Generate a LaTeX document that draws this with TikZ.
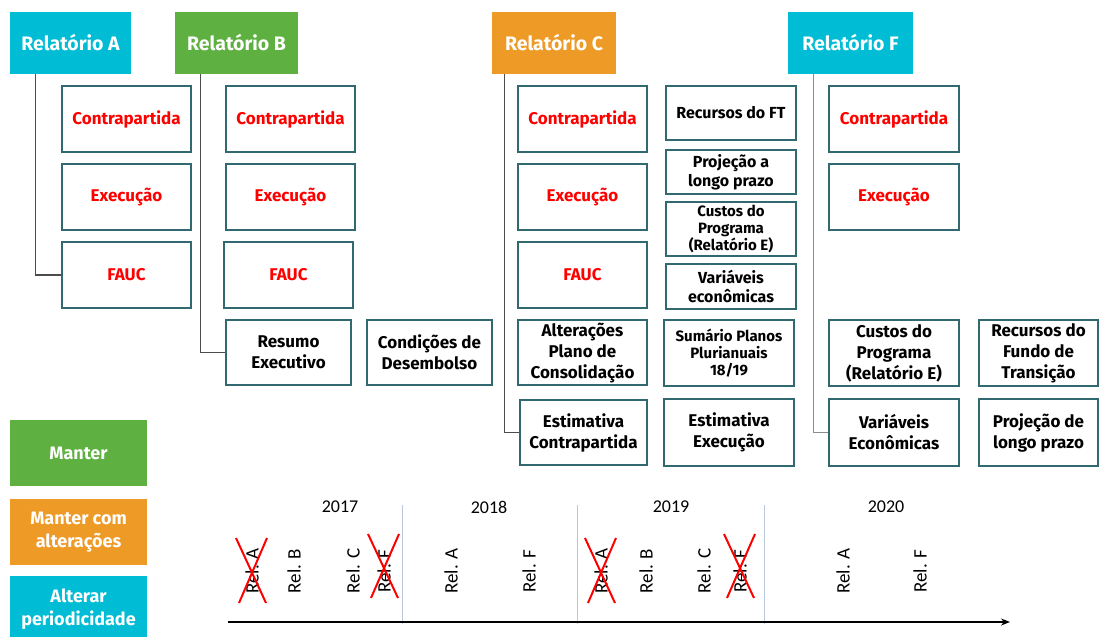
\documentclass[tikz,border=0pt]{standalone}
\usepackage{fontspec}
\setmainfont{Fira Sans}
\newfontfamily\calfont{Carlito}
\usetikzlibrary{arrows.meta,calc}
\definecolor{cyanh}{RGB}{0,188,212}
\definecolor{greenh}{RGB}{94,176,64}
\definecolor{orangeh}{RGB}{238,154,38}
\definecolor{boxline}{RGB}{50,105,112}
\definecolor{sepc}{RGB}{185,200,220}
\newcommand\bx[7]{%
  \pgfmathsetmacro\bxw{#5-#3}%
  \pgfmathsetmacro\bxh{#6-#4}%
  \node[#1, minimum width=\bxw pt, minimum height=\bxh pt] (#2) at ({(#3+#5)/2},{(#4+#6)/2}) {#7};%
}
\tikzset{
  hdr/.style={inner sep=0pt, text=white, fill=#1, font=\fontsize{19.5}{22}\selectfont\bfseries},
  rbox/.style={draw=boxline, line width=1.6pt, inner sep=0pt, text=red, font=\fontsize{17}{21}\selectfont\bfseries},
  kbox/.style={draw=boxline, line width=1.6pt, inner sep=0pt, align=center, font=\fontsize{17}{21}\selectfont\bfseries},
  sbox/.style={kbox, font=\fontsize{16}{19}\selectfont\bfseries},
  tbox/.style={kbox, font=\fontsize{15}{17}\selectfont\bfseries},
  leg/.style={inner sep=0pt, text=white, fill=#1, align=center, font=\fontsize{18}{23}\selectfont\bfseries},
  conn/.style={draw=black!70, line width=1.2pt},
  yr/.style={font=\calfont\fontsize{18}{20}\selectfont, inner sep=0pt},
  rel/.style={font=\calfont\fontsize{19}{20}\selectfont, rotate=90, inner sep=0pt},
  xmark/.style={draw=red, line width=2pt},
  sepl/.style={draw=sepc, line width=0.8pt},
}
\begin{document}
\begin{tikzpicture}[x=1pt,y=-1pt]
\useasboundingbox (0,0) rectangle (1101,637);
% headers
\bx{hdr=cyanh}{rA}{10}{12}{131}{74}{Relatório A}
\bx{hdr=greenh}{rB}{175}{12}{298}{74}{Relatório B}
\bx{hdr=orangeh}{rC}{492}{12}{616}{74}{Relatório C}
\bx{hdr=cyanh}{rF}{788}{12}{913}{74}{Relatório F}
% A
\bx{rbox}{aC}{62}{86}{191}{152}{Contrapartida}
\bx{rbox}{aE}{62}{164}{191}{230}{Execução}
\bx{rbox}{aF}{62}{242}{191}{308}{FAUC}
% B
\bx{rbox}{bC}{226}{86}{355}{152}{Contrapartida}
\bx{rbox}{bE}{226}{164}{355}{230}{Execução}
\bx{rbox}{bF}{224}{242}{353}{308}{FAUC}
\bx{kbox}{bRes}{226}{320}{351}{385}{Resumo\\Executivo}
\bx{kbox}{bCond}{367}{320}{492}{385}{Condições de\\Desembolso}
% C
\bx{rbox}{cC}{518}{86}{647}{152}{Contrapartida}
\bx{rbox}{cE}{518}{164}{647}{230}{Execução}
\bx{rbox}{cF}{518}{242}{647}{308}{FAUC}
\bx{kbox}{cAlt}{518}{320}{647}{385}{Alterações\\Plano de\\Consolidação}
\bx{kbox}{cEst}{520}{400}{647}{465}{Estimativa\\Contrapartida}
\bx{sbox}{cRec}{666}{86}{796}{140}{Recursos do FT}
\bx{sbox}{cProj}{666}{150}{796}{194}{Projeção a\\longo prazo}
\bx{tbox}{cCus}{666}{202}{796}{256}{Custos do\\Programa\\(Relatório E)}
\bx{sbox}{cVar}{666}{264}{796}{309}{Variáveis\\econômicas}
\bx{tbox}{cSum}{664}{320}{794}{386}{Sumário Planos\\Plurianuais\\18/19}
\bx{kbox}{cEstE}{664}{399}{794}{466}{Estimativa\\Execução}
% F
\bx{rbox}{fC}{829}{86}{959}{152}{Contrapartida}
\bx{rbox}{fE}{829}{164}{959}{230}{Execução}
\bx{kbox}{fCus}{829}{320}{959}{386}{Custos do\\Programa\\(Relatório E)}
\bx{kbox}{fRec}{979}{320}{1098}{386}{Recursos do\\Fundo de\\Transição}
\bx{kbox}{fVar}{829}{399}{959}{466}{Variáveis\\Econômicas}
\bx{kbox}{fProj}{979}{399}{1098}{466}{Projeção de\\longo prazo}
% connectors
\draw[conn] ($(rA.south west)+(26,0)$) |- (aF.west);
\draw[conn] ($(rB.south west)+(26,0)$) |- (bRes.west);
\draw[conn] ($(rC.south west)+(13,0)$) |- (cEst.west);
\draw[conn,draw=black!45] ($(rF.south west)+(26,0)$) |- (fVar.west);
% legend
\bx{leg=greenh}{lM}{10}{420}{147}{486}{Manter}
\bx{leg=orangeh}{lMa}{10}{499}{147}{565}{Manter com\\alterações}
\bx{leg=cyanh}{lAl}{10}{576}{147}{642}{Alterar\\periodicidade}
% timeline
\coordinate (s1t) at (402,505); \coordinate (s1b) at (402,624);
\coordinate (s2t) at (577,505); \coordinate (s2b) at (577,624);
\coordinate (s3t) at (764,505); \coordinate (s3b) at (764,624);
\draw[sepl] (s1t) -- (s1b);
\draw[sepl] (s2t) -- (s2b);
\draw[sepl] (s3t) -- (s3b);
\coordinate (ax0) at (228,622);
\coordinate (ax1) at (1010,622);
\draw[line width=2pt,-{Stealth[length=9pt,width=7pt]}] (ax0) -- (ax1);
\node[yr] (y17) at (340,507) {2017};
\node[yr] (y18) at (489,507) {2018};
\node[yr] (y19) at (671,507) {2019};
\node[yr] (y20) at (886,507) {2020};
\node[rel] (r1) at (252,571) {Rel. A};
\node[rel] (r2) at (294,571) {Rel. B};
\node[rel] (r3) at (353,571) {Rel. C};
\node[rel] (r4) at (384,571) {Rel. F};
\node[rel] (r5) at (451,571) {Rel. A};
\node[rel] (r6) at (529,571) {Rel. F};
\node[rel] (r7) at (601,571) {Rel. A};
\node[rel] (r8) at (646,571) {Rel. B};
\node[rel] (r9) at (704,571) {Rel. C};
\node[rel] (r10) at (740,571) {Rel. F};
\node[rel] (r11) at (843,571) {Rel. A};
\node[rel] (r12) at (920,571) {Rel. F};
\foreach \r in {r1,r7}{
  \draw[xmark] ($(\r.center)+(-16,-33)$) -- ($(\r.center)+(14,32)$);
  \draw[xmark] ($(\r.center)+(15,-33)$) -- ($(\r.center)+(-13,32)$);
}
\foreach \r in {r4,r10}{
  \draw[xmark] ($(\r.center)+(-16,-37)$) -- ($(\r.center)+(14,27)$);
  \draw[xmark] ($(\r.center)+(15,-37)$) -- ($(\r.center)+(-13,27)$);
}
\end{tikzpicture}
\end{document}
